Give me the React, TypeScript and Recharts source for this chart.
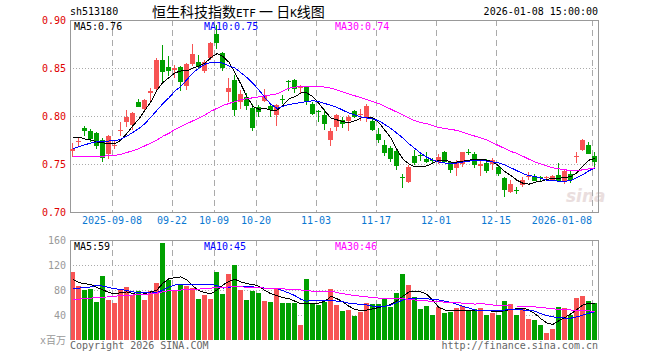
import { ComposedChart, Bar, Line, XAxis, YAxis, CartesianGrid, ReferenceArea, ReferenceLine, Cell } from 'recharts'

// trading days shown on the chart
const dates = (
  '2025-08-28 2025-08-29 2025-09-01 2025-09-02 2025-09-03 2025-09-04 2025-09-05 ' +
  '2025-09-08 2025-09-09 2025-09-10 2025-09-11 2025-09-12 2025-09-15 2025-09-16 2025-09-17 2025-09-18 2025-09-19 ' +
  '2025-09-22 2025-09-23 2025-09-24 2025-09-25 2025-09-26 2025-09-29 2025-09-30 2025-10-09 2025-10-10 ' +
  '2025-10-13 2025-10-14 2025-10-15 2025-10-16 2025-10-17 2025-10-20 2025-10-21 2025-10-22 2025-10-23 2025-10-24 ' +
  '2025-10-27 2025-10-28 2025-10-29 2025-10-30 2025-10-31 2025-11-03 2025-11-04 2025-11-05 2025-11-06 2025-11-07 ' +
  '2025-11-10 2025-11-11 2025-11-12 2025-11-13 2025-11-14 2025-11-17 2025-11-18 2025-11-19 2025-11-20 2025-11-21 ' +
  '2025-11-24 2025-11-25 2025-11-26 2025-11-27 2025-11-28 2025-12-01 2025-12-02 2025-12-03 2025-12-04 2025-12-05 ' +
  '2025-12-08 2025-12-09 2025-12-10 2025-12-11 2025-12-12 2025-12-15 2025-12-16 2025-12-17 2025-12-18 2025-12-19 ' +
  '2025-12-22 2025-12-23 2025-12-24 2025-12-25 2025-12-26 2025-12-29 2025-12-30 2025-12-31 ' +
  '2026-01-05 2026-01-06 2026-01-07 2026-01-08'
).split(' ')

const open = [
  0.764, 0.773, 0.787, 0.784, 0.782, 0.775, 0.760, 0.769, 0.784, 0.794,
  0.791, 0.815, 0.808, 0.824, 0.828, 0.858, 0.851, 0.848, 0.851, 0.831,
  0.855, 0.856, 0.847, 0.860, 0.885, 0.866, 0.825, 0.837, 0.815, 0.820,
  0.808, 0.809, 0.816, 0.810, 0.801, 0.818, 0.836, 0.837, 0.829, 0.830,
  0.813, 0.805, 0.801, 0.775, 0.788, 0.796, 0.795, 0.805, 0.801, 0.799,
  0.795, 0.781, 0.770, 0.767, 0.764, 0.736, 0.731, 0.758, 0.759, 0.755,
  0.754, 0.752, 0.762, 0.752, 0.746, 0.750, 0.763, 0.760, 0.748, 0.751,
  0.750, 0.747, 0.735, 0.721, 0.723, 0.728, 0.737, 0.738, 0.736, 0.735,
  0.733, 0.739, 0.732, 0.740, 0.757, 0.765, 0.770, 0.758,
]
const high = [
  0.772, 0.777, 0.790, 0.786, 0.783, 0.777, 0.780, 0.775, 0.794, 0.806,
  0.804, 0.818, 0.818, 0.829, 0.860, 0.874, 0.862, 0.853, 0.852, 0.855,
  0.875, 0.864, 0.858, 0.877, 0.895, 0.867, 0.840, 0.843, 0.827, 0.824,
  0.813, 0.811, 0.828, 0.811, 0.813, 0.822, 0.837, 0.839, 0.832, 0.831,
  0.815, 0.806, 0.807, 0.787, 0.802, 0.799, 0.801, 0.806, 0.807, 0.813,
  0.798, 0.788, 0.775, 0.769, 0.766, 0.740, 0.749, 0.765, 0.763, 0.763,
  0.756, 0.760, 0.764, 0.753, 0.754, 0.763, 0.766, 0.762, 0.753, 0.755,
  0.756, 0.748, 0.736, 0.733, 0.726, 0.736, 0.742, 0.740, 0.738, 0.737,
  0.739, 0.751, 0.744, 0.743, 0.762, 0.776, 0.773, 0.762,
]
const low = [
  0.757, 0.768, 0.779, 0.773, 0.766, 0.752, 0.755, 0.766, 0.779, 0.789,
  0.785, 0.809, 0.806, 0.815, 0.827, 0.834, 0.842, 0.840, 0.826, 0.827,
  0.852, 0.850, 0.845, 0.858, 0.870, 0.847, 0.815, 0.800, 0.807, 0.806,
  0.784, 0.799, 0.815, 0.799, 0.790, 0.813, 0.826, 0.824, 0.824, 0.811,
  0.801, 0.794, 0.785, 0.769, 0.784, 0.787, 0.784, 0.798, 0.795, 0.794,
  0.784, 0.772, 0.758, 0.752, 0.744, 0.725, 0.730, 0.749, 0.753, 0.751,
  0.750, 0.750, 0.751, 0.741, 0.737, 0.747, 0.759, 0.746, 0.738, 0.741,
  0.744, 0.738, 0.716, 0.720, 0.719, 0.726, 0.733, 0.732, 0.732, 0.734,
  0.732, 0.732, 0.729, 0.730, 0.751, 0.764, 0.760, 0.747,
]
const close = [
  0.766, 0.774, 0.784, 0.776, 0.768, 0.756, 0.779, 0.770, 0.785, 0.799,
  0.803, 0.810, 0.817, 0.826, 0.858, 0.845, 0.847, 0.850, 0.835, 0.854,
  0.865, 0.851, 0.856, 0.876, 0.876, 0.850, 0.829, 0.806, 0.823, 0.811,
  0.787, 0.804, 0.821, 0.806, 0.811, 0.817, 0.835, 0.828, 0.831, 0.814,
  0.803, 0.804, 0.792, 0.784, 0.801, 0.792, 0.799, 0.799, 0.802, 0.810,
  0.786, 0.775, 0.762, 0.756, 0.748, 0.735, 0.747, 0.751, 0.758, 0.752,
  0.753, 0.757, 0.752, 0.744, 0.752, 0.762, 0.762, 0.749, 0.750, 0.743,
  0.754, 0.740, 0.723, 0.729, 0.722, 0.733, 0.738, 0.733, 0.735, 0.736,
  0.738, 0.733, 0.743, 0.734, 0.758, 0.775, 0.761, 0.752,
]
const ma5 = [
  0.778, 0.778, 0.776, 0.775, 0.773, 0.772, 0.771, 0.771, 0.775, 0.782,
  0.790, 0.797, 0.806, 0.815, 0.827, 0.835, 0.840, 0.845, 0.847, 0.847,
  0.850, 0.852, 0.855, 0.861, 0.865, 0.862, 0.856, 0.845, 0.833, 0.820,
  0.810, 0.807, 0.808, 0.806, 0.806, 0.811, 0.818, 0.820, 0.824, 0.824,
  0.820, 0.813, 0.805, 0.798, 0.796, 0.794, 0.793, 0.795, 0.798, 0.799,
  0.798, 0.793, 0.785, 0.777, 0.765, 0.755, 0.750, 0.747, 0.747, 0.748,
  0.751, 0.754, 0.754, 0.752, 0.752, 0.753, 0.754, 0.755, 0.755, 0.754,
  0.752, 0.748, 0.742, 0.738, 0.733, 0.730, 0.729, 0.731, 0.732, 0.734,
  0.735, 0.735, 0.736, 0.737, 0.741, 0.748, 0.754, 0.756,
]
const ma10 = [
  0.766, 0.768, 0.770, 0.772, 0.773, 0.773, 0.774, 0.774, 0.776, 0.779,
  0.783, 0.787, 0.792, 0.799, 0.806, 0.813, 0.819, 0.826, 0.831, 0.838,
  0.845, 0.850, 0.854, 0.856, 0.856, 0.855, 0.852, 0.850, 0.845, 0.840,
  0.834, 0.827, 0.819, 0.812, 0.808, 0.810, 0.812, 0.813, 0.814, 0.815,
  0.816, 0.815, 0.813, 0.811, 0.809, 0.806, 0.803, 0.801, 0.799, 0.798,
  0.797, 0.795, 0.791, 0.787, 0.782, 0.777, 0.771, 0.766, 0.761, 0.757,
  0.754, 0.752, 0.751, 0.751, 0.751, 0.752, 0.753, 0.754, 0.754, 0.753,
  0.752, 0.751, 0.749, 0.746, 0.743, 0.740, 0.738, 0.737, 0.735, 0.733,
  0.733, 0.732, 0.732, 0.733, 0.736, 0.739, 0.743, 0.746,
]
const ma30 = [
  0.758, 0.758, 0.758, 0.758, 0.758, 0.758, 0.759, 0.759, 0.760, 0.762,
  0.764, 0.766, 0.769, 0.772, 0.775, 0.779, 0.782, 0.786, 0.789, 0.792,
  0.795, 0.798, 0.801, 0.805, 0.808, 0.811, 0.813, 0.815, 0.817, 0.818,
  0.819, 0.820, 0.821, 0.822, 0.823, 0.826, 0.829, 0.830, 0.831, 0.831,
  0.831, 0.831, 0.830, 0.829, 0.827, 0.825, 0.823, 0.821, 0.819, 0.817,
  0.815, 0.813, 0.810, 0.807, 0.804, 0.801, 0.798, 0.795, 0.793, 0.792,
  0.790, 0.788, 0.787, 0.786, 0.785, 0.783, 0.781, 0.779, 0.777, 0.775,
  0.772, 0.769, 0.766, 0.763, 0.761, 0.758, 0.755, 0.752, 0.750, 0.748,
  0.746, 0.745, 0.744, 0.743, 0.743, 0.744, 0.745, 0.746,
]

// volume, in millions
const volume = [
  108.8, 86.4, 80, 81.6, 60.8, 102.4, 64, 59.7, 80, 84.8,
  72, 78.4, 64, 78.4, 91.2, 155.2, 96, 80, 89.6, 86.4,
  83.2, 65.6, 72, 65.6, 108.8, 73.6, 105.6, 120, 80, 64,
  78.4, 75.2, 62.4, 60.8, 83.2, 59.2, 59.2, 59.2, 24, 97.6,
  59.2, 56, 60.8, 81.6, 56, 46.9, 48, 38.4, 45.3, 59.7,
  57.6, 57.6, 66.7, 52.3, 75.7, 106, 88, 69.3, 49.6, 54.4,
  40, 53.3, 43.7, 45.3, 51.2, 54.4, 48, 49, 51.2, 40,
  43.7, 40, 63, 57.6, 40, 51.2, 33, 32, 24, 11.7,
  17.6, 52.8, 51.2, 40, 67.2, 70.4, 62.4, 59.2,
]
const volMa5 = [
  97, 92, 90, 89, 84, 80, 76, 74, 76, 77,
  74, 73, 74, 77, 80, 91, 98, 100, 101, 96,
  86, 79, 76, 74, 80, 88, 94, 97, 93, 90,
  89, 86, 79, 74, 71, 68, 66, 62, 58, 59,
  59, 59, 62, 70, 66, 61, 54, 49, 47, 48,
  50, 52, 54, 57, 63, 70, 77, 78, 77, 73,
  63, 52, 48, 47, 48, 48, 48, 48, 47, 47,
  46, 45, 47, 49, 50, 51, 48, 42, 34, 27,
  25, 31, 36, 42, 49, 56, 59, 59,
]
const volMa10 = [
  83, 83, 84, 85, 88, 86, 84, 82, 81, 79,
  77, 76, 76, 75, 76, 80, 85, 88, 89, 89,
  89, 89, 89, 89, 87, 83, 84, 86, 86, 85,
  85, 84, 83, 82, 82, 79, 75, 71, 65, 62,
  64, 63, 63, 64, 62, 61, 59, 58, 57, 56,
  54, 53, 54, 56, 60, 64, 66, 67, 67, 66,
  65, 64, 62, 60, 57, 54, 51, 48, 47, 47,
  47, 47, 48, 49, 49, 48, 48, 46, 42, 39,
  37, 36, 35, 35, 37, 40, 43, 45,
]
const volMa30 = [
  65, 65.5, 66, 67, 68, 68.5, 69, 70, 71, 71.5,
  72, 73, 73, 74, 75, 77, 79, 79.5, 80, 80.5,
  81, 81.5, 82, 83, 84, 84, 85, 85, 85, 84.5,
  84, 83.5, 83, 83, 82.5, 82, 81, 81, 80, 79,
  78, 78, 78, 78, 76, 74, 72.5, 71, 70, 69,
  68, 67, 66.7, 66.7, 66.5, 66, 64.5, 64, 63, 62.5,
  62, 61.3, 60.5, 60, 59.5, 59, 58.5, 57.5, 58.5, 57,
  56, 55.5, 54.5, 54.4, 54.4, 54.4, 54, 53, 52, 51,
  50, 49, 48.5, 48, 47.5, 47, 46.5, 46,
]

const tickDates = ['2025-09-08', '2025-09-22', '2025-10-09', '2025-10-20', '2025-11-03', '2025-11-17', '2025-12-01', '2025-12-15', '2026-01-08']
const tickLabels = ['2025-09-08', '09-22', '10-09', '10-20', '11-03', '11-17', '12-01', '12-15', '2026-01-08']
const priceTicks = [0.7, 0.75, 0.8, 0.85, 0.9]
const volTicks = [0, 40, 80, 120, 160]

const MONO = '"DejaVu Sans Mono", "Noto Sans CJK SC", monospace'
const RED = '#f75454'
const GREEN = '#00a000'
const GRID = '#aaa'
const FRAME = '#999'

const rows = dates.map((date, i) => ({
  i,
  date,
  open: open[i],
  high: high[i],
  low: low[i],
  close: close[i],
  ma5: ma5[i],
  ma10: ma10[i],
  ma30: ma30[i],
  vol: volume[i],
  vma5: volMa5[i],
  vma10: volMa10[i],
  vma30: volMa30[i],
}))

// the dashed date lines sit on the left edge of each day's slot
const xTicks = tickDates.map(d => dates.indexOf(d) - 0.5)
const xDomain: [number, number] = [-0.5, dates.length - 0.5]

function Candle(props: any) {
  const { x, y, width, height, payload } = props
  const { open: o, close: c, high: h, low: l } = payload
  const color = c >= o ? RED : GREEN
  const top = Math.min(y, y + height)
  const span = Math.abs(height)
  const k = h === l ? 0 : span / (h - l)
  const yOpen = top + (h - o) * k
  const yClose = top + (h - c) * k
  const bodyTop = Math.round(Math.min(yOpen, yClose))
  const bodyH = Math.max(1, Math.round(Math.abs(yOpen - yClose)))
  const cx = Math.round(x + width / 2 - 0.5)
  return (
    <g>
      <rect x={cx} y={top} width={1} height={span} fill={color} />
      <rect x={Math.round(x)} y={bodyTop} width={width} height={bodyH} fill={color} />
    </g>
  )
}

function DateTick(props: any) {
  const { x, y, payload } = props
  const k = xTicks.indexOf(payload.value)
  const last = k === xTicks.length - 1
  return (
    <text x={x} y={y} dy="0.71em" textAnchor={last ? 'end' : 'middle'} fontSize={10} fontFamily={MONO} fill="#0a78d2">
      {tickLabels[k]}
    </text>
  )
}

const txt = (extra: any) => ({
  position: 'absolute' as const,
  fontFamily: MONO,
  fontSize: 10,
  lineHeight: '10px',
  whiteSpace: 'nowrap' as const,
  ...extra,
})

export default function App() {
  return (
    <div style={{ position: 'absolute', left: 0, top: 0, width: 660, height: 360, background: '#fff', shapeRendering: 'crispEdges' }}>
      <div style={txt({ left: 566, top: 188, fontSize: 17, lineHeight: '17px', fontStyle: 'italic', fontWeight: 'bold', color: '#eadede', fontFamily: '"DejaVu Sans"' })}>sina</div>

      <div style={{ position: 'absolute', left: 0, top: 0 }}>
        <ComposedChart width={660} height={232} data={rows} margin={{ top: 20, right: 62, bottom: 0, left: 0 }}>
          <CartesianGrid horizontal vertical={false} horizontalValues={[0.75, 0.8, 0.85]} stroke={GRID} strokeDasharray="1 2" />
          <CartesianGrid horizontal={false} vertical verticalValues={xTicks} stroke={GRID} strokeDasharray="6 4" />
          <XAxis
            type="number"
            dataKey="i"
            domain={xDomain}
            allowDataOverflow
            ticks={xTicks}
            interval={0}
            tick={<DateTick />}
            tickLine={false}
            axisLine={false}
            tickSize={3}
            tickMargin={2}
            height={20}
          />
          <YAxis
            domain={[0.7, 0.9]}
            allowDataOverflow
            ticks={priceTicks}
            interval={0}
            tickFormatter={v => v.toFixed(2)}
            tick={{ fontSize: 10, fontFamily: MONO, fill: '#e00000' }}
            tickLine={false}
            axisLine={false}
            tickSize={2}
            tickMargin={2}
            width={70}
          />
          <ReferenceArea x1={xDomain[0]} x2={xDomain[1]} y1={0.7} y2={0.9} fill="none" fillOpacity={0} stroke={FRAME} />
          <Bar dataKey={(d: any) => [d.low, d.high]} barSize={5} shape={Candle} isAnimationActive={false} />
          <Line type="linear" dataKey="ma5" stroke="#000" strokeWidth={1} dot={false} isAnimationActive={false} />
          <Line type="linear" dataKey="ma10" stroke="#0000ff" strokeWidth={1} dot={false} isAnimationActive={false} />
          <Line type="linear" dataKey="ma30" stroke="#ff00ff" strokeWidth={1} dot={false} isAnimationActive={false} />
        </ComposedChart>
      </div>

      <div style={{ position: 'absolute', left: 0, top: 232 }}>
        <ComposedChart width={660} height={128} data={rows} margin={{ top: 8, right: 62, bottom: 20, left: 0 }}>
          <CartesianGrid horizontal vertical={false} horizontalValues={[40, 80, 120]} stroke={GRID} strokeDasharray="1 2" />
          <CartesianGrid horizontal={false} vertical verticalValues={xTicks} stroke={GRID} strokeDasharray="6 4" />
          <XAxis type="number" dataKey="i" domain={xDomain} allowDataOverflow ticks={xTicks} hide />
          <YAxis
            domain={[0, 160]}
            allowDataOverflow
            ticks={volTicks}
            interval={0}
            tickFormatter={v => (v === 0 ? 'x百万' : String(v))}
            tick={{ fontSize: 10, fontFamily: MONO, fill: '#999' }}
            tickLine={false}
            axisLine={false}
            tickSize={2}
            tickMargin={2}
            width={70}
          />
          <ReferenceLine y={160} stroke={FRAME} />
          <ReferenceLine x={xDomain[0]} stroke={FRAME} />
          <ReferenceLine x={xDomain[1]} stroke={FRAME} />
          <Bar dataKey="vol" barSize={5} isAnimationActive={false}>
            {rows.map((r, k) => (
              <Cell key={k} fill={r.close >= r.open ? RED : GREEN} />
            ))}
          </Bar>
          <Line type="linear" dataKey="vma5" stroke="#000" strokeWidth={1} dot={false} isAnimationActive={false} />
          <Line type="linear" dataKey="vma10" stroke="#0000ff" strokeWidth={1} dot={false} isAnimationActive={false} />
          <Line type="linear" dataKey="vma30" stroke="#ff00ff" strokeWidth={1} dot={false} isAnimationActive={false} />
        </ComposedChart>
      </div>

      {/* header */}
      <div style={txt({ left: 70, top: 7, color: '#000' })}>sh513180</div>
      <div style={txt({ left: 152, top: 3.5, fontSize: 14, lineHeight: '14px', fontFamily: '"Noto Sans CJK SC"', color: '#000' })}>
        恒生科技指数<span style={{ fontFamily: MONO, fontSize: 11 }}>ETF</span> 一 日<span style={{ fontFamily: MONO, fontSize: 11 }}>K</span>线图
      </div>
      <div style={txt({ right: 62, top: 7, color: '#000' })}>2026-01-08 15:00:00</div>

      {/* moving average legends */}
      <div style={txt({ left: 74, top: 21.5, color: '#000' })}>MA5:0.76</div>
      <div style={txt({ left: 204, top: 21.5, color: '#0000ff' })}>MA10:0.75</div>
      <div style={txt({ left: 335, top: 21.5, color: '#ff00ff' })}>MA30:0.74</div>
      <div style={txt({ left: 74, top: 241.5, color: '#000' })}>MA5:59</div>
      <div style={txt({ left: 204, top: 241.5, color: '#0000ff' })}>MA10:45</div>
      <div style={txt({ left: 335, top: 241.5, color: '#ff00ff' })}>MA30:46</div>

      {/* footer */}
      <div style={txt({ left: 70, top: 340.5, color: '#666' })}>Copyright 2026 SINA.COM</div>
      <div style={txt({ right: 62, top: 340.5, color: '#666' })}>http://finance.sina.com.cn</div>
    </div>
  )
}
